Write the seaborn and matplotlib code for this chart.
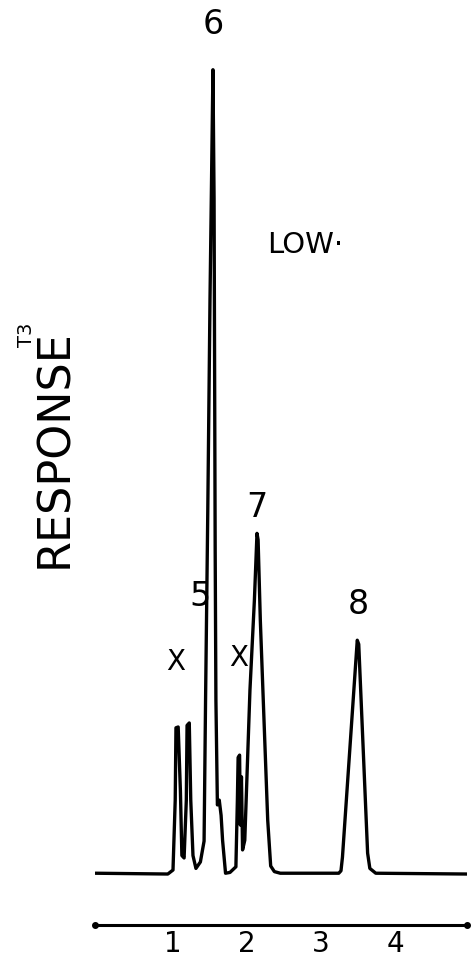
import numpy as np
import pandas as pd
import matplotlib
matplotlib.use("Agg")
import matplotlib.pyplot as plt
from matplotlib import font_manager
import seaborn as sns

# trace (x = chart units, y = response, peak 6 = 100)
trace_x = [-0.05, 0.93, 1.00, 1.03, 1.04, 1.07, 1.10, 1.12, 1.15, 1.18, 1.19, 1.22,
           1.24, 1.27, 1.31, 1.37, 1.42, 1.44, 1.47, 1.50, 1.54, 1.555, 1.57, 1.58,
           1.60, 1.625, 1.65, 1.67, 1.71, 1.77, 1.85, 1.87, 1.88, 1.90, 1.91, 1.925,
           1.94, 1.97, 2.04, 2.10, 2.135, 2.15, 2.18, 2.22, 2.28, 2.32, 2.37, 2.45,
           3.24, 3.27, 3.29, 3.49, 3.51, 3.63, 3.66, 3.74, 4.97]
trace_y = [0.0, -0.1, 0.4, 9.1, 18.1, 18.2, 10.3, 2.2, 1.9, 9.1, 18.4, 18.7,
           9.1, 2.2, 0.6, 1.4, 4.0, 21.5, 45.0, 71.4, 100.0, 84.0, 40.2, 21.5,
           8.5, 9.1, 7.2, 4.1, 0.0, 0.1, 0.8, 9.1, 14.4, 14.7, 6.0, 12.0,
           2.9, 4.1, 22.8, 34.0, 42.3, 41.5, 31.5, 21.5, 6.6, 0.9, 0.2, 0.0,
           0.0, 0.3, 2.0, 29.0, 28.5, 2.5, 0.6, 0.0, -0.1]

# peak labels
peak_names = ["6", "5", "7", "8", "X", "X"]
peak_x = [1.54, 1.365, 2.135, 3.50, 1.03, 1.89]
peak_y = [105.6, 34.4, 45.5, 33.4, 26.3, 26.8]

ticks = [1, 2, 3, 4]
tick_labels = ["1", "2", "3", "4"]

df = pd.DataFrame({"x": trace_x, "y": trace_y})

sns.set_style("white")
plt.rcParams["font.family"] = ["DejaVu Sans"]
plt.rcParams["text.color"] = "black"

fig = plt.figure(figsize=(4.72, 9.67), dpi=100)
ax = fig.add_axes([95 / 472, 7 / 967, 372 / 472, 920 / 967])

sns.lineplot(data=df, x="x", y="y", sort=False, estimator=None, color="black",
             lw=2.4, ax=ax, solid_joinstyle="round", solid_capstyle="round")

ax.set_xlim(-0.054, 4.973)
ax.set_ylim(-10.8, 103.7)

spine_y = -6.48
for s in ["left", "right", "top"]:
    ax.spines[s].set_visible(False)
ax.spines["bottom"].set_position(("data", spine_y))
ax.spines["bottom"].set_linewidth(2.2)
ax.spines["bottom"].set_color("black")
ax.spines["bottom"].set_capstyle("round")
ax.plot(ax.get_xlim(), [spine_y, spine_y], "o", color="black", ms=4, clip_on=False)

ax.set_xticks(ticks)
ax.set_xticklabels(tick_labels)
ax.tick_params(axis="x", direction="inout", length=5, width=2, pad=1,
               labelsize=20, colors="black")
ax.set_yticks([])
ax.set_xlabel("")
ax.set_ylabel("")

for name, px, py in zip(peak_names, peak_x, peak_y):
    fs = 20 if name == "X" else 24
    ax.text(px, py, name, ha="center", va="center", fontsize=fs, color="black",
            clip_on=False)

ax.text(2.78, 78.2, "LOW·", ha="center", va="center", fontsize=21, color="black")

# narrow face for the tall axis lettering if it is there
names = {f.name for f in font_manager.fontManager.ttflist}
if "Liberation Sans Narrow" in names:
    fig.text(55 / 472, 1 - 449 / 967, "RESPONSE", rotation=90, ha="center",
             va="center", fontsize=37, family="Liberation Sans Narrow", color="black")
else:
    fig.text(55 / 472, 1 - 449 / 967, "RESPONSE", rotation=90, ha="center",
             va="center", fontsize=32, color="black")
fig.text(26 / 472, 1 - 335 / 967, "T3", rotation=90, ha="center", va="center",
         fontsize=14, color="black")

fig.savefig("out.png", dpi=100)
